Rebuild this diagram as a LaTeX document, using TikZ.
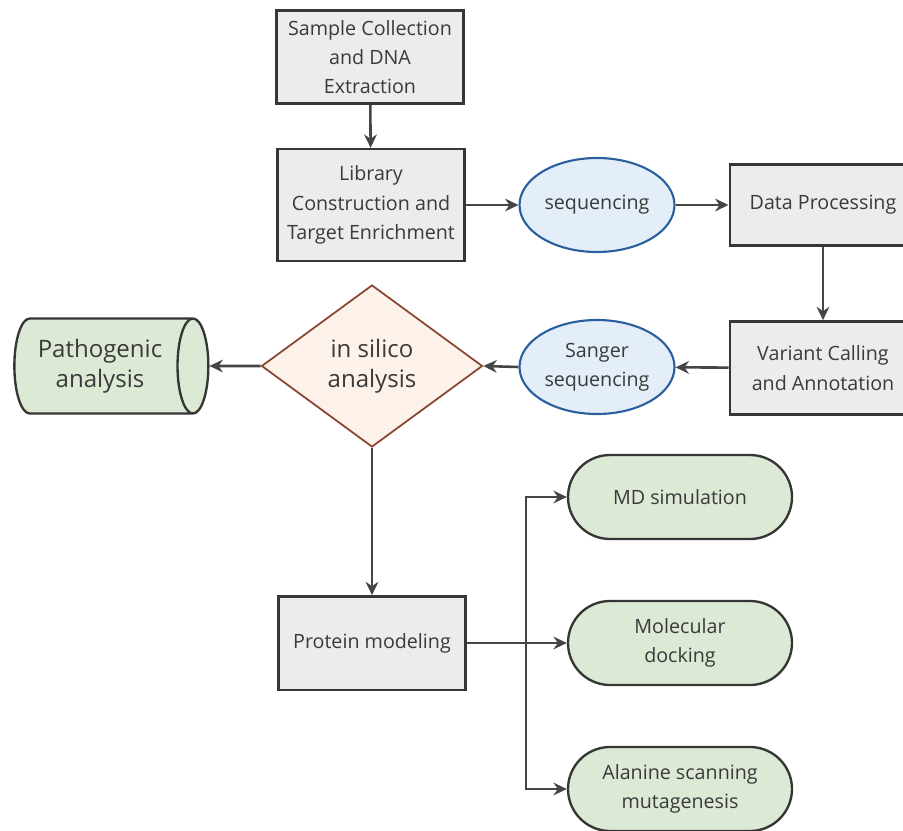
\documentclass[tikz,border=0pt]{standalone}
\usepackage{fontspec}
\setmainfont{Open Sans}
\usetikzlibrary{arrows.meta,shapes.geometric,positioning}

\definecolor{ink}{HTML}{3A3A3A}
\definecolor{edge}{HTML}{363636}
\definecolor{linegray}{HTML}{454545}
\definecolor{boxgray}{HTML}{ECECEC}
\definecolor{seqblue}{HTML}{2A5F9E}
\definecolor{seqfill}{HTML}{E4EEF9}
\definecolor{diaedge}{HTML}{8B4430}
\definecolor{diafill}{HTML}{FDF2EA}
\definecolor{leafgreen}{HTML}{DCE9D5}

\begin{document}
\begin{tikzpicture}[
    x=0.3mm, y=-0.3mm,
    >={Stealth[length=4mm,width=3.8mm]},
    txt/.style={font=\fontsize{16.8}{25}\selectfont, text=ink, align=center},
    bigtxt/.style={font=\fontsize{20.5}{25.5}\selectfont, text=ink, align=center},
    stepbox/.style={txt, rectangle, draw=edge, fill=boxgray, line width=2pt, minimum width=56mm, minimum height=28mm, inner sep=2pt},
    seqnode/.style={txt, ellipse, draw=seqblue, fill=seqfill, line width=1.8pt, minimum width=46.5mm, minimum height=28.2mm, inner sep=0pt},
    decision/.style={bigtxt, diamond, draw=diaedge, fill=diafill, line width=1.5pt, minimum width=66.3mm, minimum height=48.6mm, inner sep=0pt},
    pill/.style={txt, rectangle, rounded corners=12.6mm, draw=edge, fill=leafgreen, line width=2pt, minimum width=67.2mm, minimum height=25.2mm},
    store/.style={bigtxt, cylinder, aspect=0.5, draw=edge, fill=leafgreen, line width=2pt, minimum width=28.5mm, minimum height=58.2mm},
    flow/.style={->, draw=linegray, line width=2.2pt}
]
    \useasboundingbox (0,0) rectangle (903,831);

    % sequencing pipeline
    \node[stepbox] (sample) at (370,57) {Sample Collection\\and DNA\\Extraction};
    \node[stepbox, minimum height=33.6mm] (library) at (371,205) {Library\\Construction and\\Target Enrichment};
    \node[seqnode] (seq) at (597,205) {sequencing};
    \node[stepbox, minimum height=24.3mm] (data) at (823,205) {Data Processing};
    \node[stepbox] (variant) at (823,368) {Variant Calling\\and Annotation};
    \node[seqnode] (sanger) at (597,367) {Sanger\\sequencing};
    \node[decision] (silico) at (372,366) {in silico\\analysis};
    \node[store] (patho) at (100,366) {Pathogenic\\analysis};

    % structural part
    \node[stepbox] (protein) at (372,643) {Protein modeling};
    \foreach \name/\yy/\lab in {md/497/{MD simulation}, dock/643/{Molecular\\docking}, ala/789/{Alanine scanning\\mutagenesis}} {
        \node[pill] (\name) at (680,\yy) {\lab};
    }
    \coordinate (branch) at (526,643);

    \draw[flow] (sample) -- (library);
    \draw[flow] (library) -- (seq);
    \draw[flow] (seq) -- (data);
    \draw[flow] (data) -- (variant);
    \draw[flow] (variant) -- (sanger);
    \draw[flow] (sanger.west) -- (silico.east);
    \draw[flow] (silico) -- (patho);
    \draw[flow] (silico) -- (protein);
    \draw[flow] (protein) -- (dock);
    \foreach \name in {md,ala} {
        \draw[flow] (branch) |- (\name.west);
    }
\end{tikzpicture}
\end{document}
